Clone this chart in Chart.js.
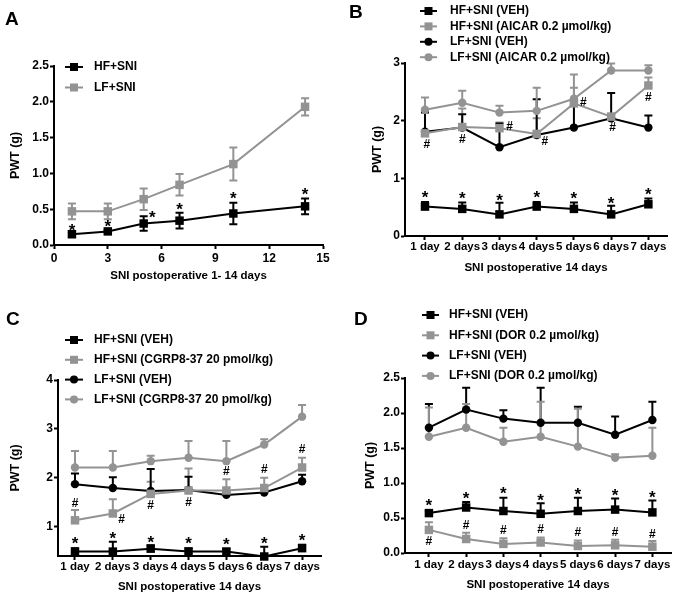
<!DOCTYPE html>
<html>
<head>
<meta charset="utf-8">
<script src="https://cdn.jsdelivr.net/npm/chart.js@4.4.1/dist/chart.umd.min.js"></script>
<style>
  body { margin: 0; background: #fff; }
  #wrap { position: relative; width: 677px; height: 597px; }
  canvas { position: absolute; }
</style>
</head>
<body>
<div id="wrap">
  <canvas id="chartA" width="338" height="298" style="left:0;top:0"></canvas>
  <canvas id="chartB" width="339" height="298" style="left:338px;top:0"></canvas>
  <canvas id="chartC" width="338" height="299" style="left:0;top:298px"></canvas>
  <canvas id="chartD" width="339" height="299" style="left:338px;top:298px"></canvas>
</div>
<script>
// panel A: days 1-14
const daysA = [1, 3, 5, 7, 10, 14];
const hfA = [0.15, 0.19, 0.30, 0.34, 0.44, 0.54];
const hfAErr = [0.02, 0.02, 0.10, 0.11, 0.15, 0.11];
const lfA = [0.47, 0.47, 0.64, 0.84, 1.13, 1.93];
const lfAErr = [0.11, 0.11, 0.15, 0.15, 0.23, 0.12];
const starsA = [[1, 0.26], [3, 0.31], [5.48, 0.44], [7, 0.55], [10, 0.70], [14, 0.76]];

// panels B-D: 7 days
const days = ["1 day", "2 days", "3 days", "4 days", "5 days", "6 days", "7 days"];

const hfVehB = [0.51, 0.47, 0.375, 0.51, 0.47, 0.375, 0.55];
const hfVehBErr = [0.08, 0.11, 0.20, 0.08, 0.11, 0.15, 0.10];
const hfAicarB = [1.78, 1.89, 1.87, 1.77, 2.30, 2.07, 2.61];
const hfAicarBErr = [0.37, 0.32, 0.10, 0.27, 0.50, 0.05, 0.14];
const lfVehB = [1.81, 1.88, 1.54, 1.75, 1.88, 2.04, 1.88];
const lfVehBErr = [0.33, 0.23, 0.41, 0.62, 0.40, 0.44, 0.21];
const lfAicarB = [2.19, 2.31, 2.14, 2.17, 2.38, 2.87, 2.87];
const lfAicarBErr = [0.21, 0.21, 0.12, 0.40, 0.19, 0.12, 0.09];
const starsB = [0.74, 0.72, 0.69, 0.74, 0.72, 0.63, 0.78];
const hashB = [[1.05, 1.60], [2.0, 1.69], [3.27, 1.92], [4.22, 1.66], [5.25, 2.33], [6.04, 1.89], [7.0, 2.41]];

const hfVehC = [0.49, 0.49, 0.55, 0.49, 0.49, 0.39, 0.56];
const hfVehCErr = [0.07, 0.20, 0.07, 0.07, 0.06, 0.20, 0.07];
const hfCgrpC = [1.13, 1.27, 1.67, 1.74, 1.74, 1.79, 2.21];
const hfCgrpCErr = [0.21, 0.29, 0.25, 0.45, 0.23, 0.21, 0.20];
const lfVehC = [1.87, 1.79, 1.73, 1.75, 1.65, 1.70, 1.93];
const lfVehCErr = [0.22, 0.22, 0.45, 0.27, 0.05, 0.05, 0.13];
const lfCgrpC = [2.21, 2.21, 2.34, 2.41, 2.34, 2.68, 3.25];
const lfCgrpCErr = [0.34, 0.34, 0.11, 0.34, 0.41, 0.11, 0.24];
const starsC = [0.74, 0.83, 0.76, 0.73, 0.71, 0.74, 0.80];
const hashC = [[1, 1.49], [2.23, 1.17], [3, 1.44], [4, 1.51], [5, 2.14], [6, 2.19], [7, 2.60]];

const hfVehD = [0.57, 0.65, 0.60, 0.56, 0.60, 0.62, 0.58];
const hfVehDErr = [0.03, 0.08, 0.19, 0.15, 0.19, 0.16, 0.17];
const hfDorD = [0.33, 0.20, 0.13, 0.15, 0.10, 0.11, 0.09];
const hfDorDErr = [0.11, 0.09, 0.08, 0.07, 0.08, 0.08, 0.08];
const lfVehD = [1.79, 2.05, 1.92, 1.86, 1.86, 1.69, 1.90];
const lfVehDErr = [0.34, 0.31, 0.12, 0.50, 0.23, 0.26, 0.26];
const lfDorD = [1.66, 1.79, 1.59, 1.66, 1.52, 1.36, 1.39];
const lfDorDErr = [0.42, 0.34, 0.20, 0.50, 0.54, 0.05, 0.40];
const starsD = [0.74, 0.84, 0.905, 0.81, 0.895, 0.87, 0.85];
const hashD = [0.17, 0.41, 0.34, 0.35, 0.30, 0.30, 0.28];

const FONT = "'Liberation Sans', Arial, sans-serif";
const BLACK = "#000";
const GRAY = "#939393";

Chart.defaults.font.family = FONT;
Chart.defaults.font.weight = "bold";
Chart.defaults.color = BLACK;

// error bars (upward only unless both is set)
const errorBars = {
    id: "errorBars",
    beforeDatasetsDraw(chart) {
        const ctx = chart.ctx;
        const ys = chart.scales.y;
        chart.data.datasets.forEach((ds, i) => {
            const meta = chart.getDatasetMeta(i);
            ctx.save();
            ctx.strokeStyle = ds.borderColor;
            ctx.lineWidth = 2;
            meta.data.forEach((pt, j) => {
                const v = ds.data[j].y, e = ds.err[j];
                const top = ys.getPixelForValue(v + e);
                const bot = ds.both ? ys.getPixelForValue(v - e) : pt.y;
                ctx.beginPath();
                ctx.moveTo(pt.x, bot);
                ctx.lineTo(pt.x, top);
                ctx.moveTo(pt.x - 4, top);
                ctx.lineTo(pt.x + 4, top);
                if (ds.both) {
                    ctx.moveTo(pt.x - 4, bot);
                    ctx.lineTo(pt.x + 4, bot);
                }
                ctx.stroke();
            });
            ctx.restore();
        });
    }
};

// significance marks, legend and panel letter
const panelDeco = {
    id: "panel",
    afterDatasetsDraw(chart, args, o) {
        const ctx = chart.ctx;
        const xs = chart.scales.x, ys = chart.scales.y;
        ctx.save();
        ctx.fillStyle = BLACK;
        ctx.textAlign = "center";
        ctx.textBaseline = "alphabetic";
        o.marks.forEach(m => {
            const star = m[2] === "*";
            const size = star ? 17 : 12;
            ctx.font = "bold " + size + "px " + FONT;
            ctx.fillText(m[2], xs.getPixelForValue(m[0]), ys.getPixelForValue(m[1]) + (star ? 0.55 : 0.36) * size);
        });

        const lg = o.legend;
        chart.data.datasets.forEach((ds, k) => {
            const y = lg.y + k * lg.dy;
            const mx = (lg.x1 + lg.x2) / 2;
            ctx.strokeStyle = ds.borderColor;
            ctx.fillStyle = ds.borderColor;
            ctx.lineWidth = 2;
            ctx.beginPath();
            ctx.moveTo(lg.x1, y);
            ctx.lineTo(lg.x2, y);
            ctx.stroke();
            if (ds.pointStyle === "rect") {
                ctx.fillRect(mx - 4, y - 4, 8, 8);
            } else {
                ctx.beginPath();
                ctx.arc(mx, y, 4, 0, Math.PI * 2);
                ctx.fill();
            }
            ctx.fillStyle = BLACK;
            ctx.font = "bold 12px " + FONT;
            ctx.textAlign = "left";
            ctx.textBaseline = "middle";
            ctx.fillText(ds.label, lg.text, y);
        });

        ctx.font = "bold 19px " + FONT;
        ctx.textAlign = "left";
        ctx.textBaseline = "alphabetic";
        ctx.fillText(o.letter[0], o.letter[1], o.letter[2]);
        ctx.restore();
    }
};

function series(label, xs, ys, err, color, style, both) {
    return {
        label: label,
        data: ys.map((v, i) => ({ x: xs[i], y: v })),
        err: err,
        both: both,
        borderColor: color,
        backgroundColor: color,
        pointBackgroundColor: color,
        pointBorderColor: color,
        pointBorderWidth: 0,
        pointStyle: style,
        pointRadius: style === "rect" ? 6 : 4.2,
        borderWidth: 2,
        tension: 0,
        clip: false
    };
}

function axis(extra) {
    const base = {
        type: "linear",
        border: { display: true, color: BLACK, width: 2 },
        grid: { display: true, drawOnChartArea: false, drawTicks: true, tickLength: 4, tickWidth: 2, tickColor: BLACK },
        ticks: { color: BLACK, font: { size: 12, weight: "bold" }, maxRotation: 0, autoSkip: false, padding: 1 },
        title: { display: true, color: BLACK, font: { size: 12.5, weight: "bold" } }
    };
    return Object.assign(base, extra, {
        ticks: Object.assign(base.ticks, extra.ticks || {}),
        title: Object.assign(base.title, extra.title || {})
    });
}

function dayAxis(min, right) {
    return axis({
        min: min, max: 7.5,
        afterFit: s => { s.height = right.h; },
        afterBuildTicks: s => { s.ticks = days.map((d, i) => ({ value: i + 1 })); },
        ticks: { callback: v => days[v - 1], font: { size: 11.5, weight: "bold" }, padding: right.pad },
        title: { text: "SNI postoperative 14 days", font: { size: 11.5, weight: "bold" }, padding: { top: 0, bottom: right.tb } }
    });
}

function makePanel(id, datasets, scales, padding, deco) {
    return new Chart(document.getElementById(id), {
        type: "line",
        data: { datasets: datasets },
        options: {
            responsive: false,
            animation: false,
            devicePixelRatio: 1,
            layout: { padding: padding },
            plugins: { legend: { display: false }, tooltip: { enabled: false }, panel: deco },
            scales: scales
        },
        plugins: [errorBars, panelDeco]
    });
}

const idx = days.map((d, i) => i + 1);

// A
makePanel("chartA", [
    series("HF+SNI", daysA, hfA, hfAErr, BLACK, "rect", true),
    series("LF+SNI", daysA, lfA, lfAErr, GRAY, "rect", true)
], {
    x: axis({
        min: 0, max: 15,
        afterFit: s => { s.height = 53; },
        ticks: { stepSize: 3, padding: 2 },
        title: { text: "SNI postoperative 1- 14 days", font: { size: 11.5, weight: "bold" }, padding: { top: 0, bottom: 15 } }
    }),
    y: axis({
        min: 0, max: 2.5,
        afterFit: s => { s.width = 54; },
        ticks: { stepSize: 0.5, callback: v => v.toFixed(1) },
        title: { text: "PWT (g)", padding: { top: 8, bottom: 0 } }
    })
}, { top: 66, right: 15, left: 0, bottom: 0 }, {
    letter: ["A", 5, 25],
    legend: { x1: 65, x2: 83, text: 94, y: 67, dy: 20.5 },
    marks: starsA.map(s => [s[0], s[1], "*"])
});

// B
makePanel("chartB", [
    series("HF+SNI (VEH)", idx, hfVehB, hfVehBErr, BLACK, "rect"),
    series("HF+SNI (AICAR 0.2 \u00b5mol/kg)", idx, hfAicarB, hfAicarBErr, GRAY, "rect"),
    series("LF+SNI (VEH)", idx, lfVehB, lfVehBErr, BLACK, "circle"),
    series("LF+SNI (AICAR 0.2 \u00b5mol/kg)", idx, lfAicarB, lfAicarBErr, GRAY, "circle")
], {
    x: dayAxis(0.463, { h: 62, pad: 0, tb: 23 }),
    y: axis({
        min: 0, max: 3,
        afterFit: s => { s.width = 67; },
        ticks: { stepSize: 1 },
        title: { text: "PWT (g)", padding: { top: 32, bottom: 0 } }
    })
}, { top: 63, right: 10, left: 0, bottom: 0 }, {
    letter: ["B", 11, 18],
    legend: { x1: 82, x2: 99, text: 112, y: 11, dy: 15.4 },
    marks: starsB.map((v, i) => [i + 1, v, "*"]).concat(hashB.map(h => [h[0], h[1], "#"]))
});

// C
makePanel("chartC", [
    series("HF+SNI (VEH)", idx, hfVehC, hfVehCErr, BLACK, "rect"),
    series("HF+SNI (CGRP8-37 20 pmol/kg)", idx, hfCgrpC, hfCgrpCErr, GRAY, "rect"),
    series("LF+SNI (VEH)", idx, lfVehC, lfVehCErr, BLACK, "circle"),
    series("LF+SNI (CGRP8-37 20 pmol/kg)", idx, lfCgrpC, lfCgrpCErr, GRAY, "circle")
], {
    x: dayAxis(0.551, { h: 41, pad: 0, tb: 3 }),
    y: axis({
        min: 0.4, max: 4,
        afterFit: s => { s.width = 58; },
        afterBuildTicks: s => { s.ticks = [1, 2, 3, 4].map(v => ({ value: v })); },
        title: { text: "PWT (g)", padding: { top: 8, bottom: 0 } }
    })
}, { top: 82, right: 17, left: 0, bottom: 0 }, {
    letter: ["C", 6, 27],
    legend: { x1: 65, x2: 83, text: 94, y: 42, dy: 19.8 },
    marks: starsC.map((v, i) => [i + 1, v, "*"]).concat(hashC.map(h => [h[0], h[1], "#"]))
});

// D
makePanel("chartD", [
    series("HF+SNI (VEH)", idx, hfVehD, hfVehDErr, BLACK, "rect"),
    series("HF+SNI (DOR 0.2 \u00b5mol/kg)", idx, hfDorD, hfDorDErr, GRAY, "rect"),
    series("LF+SNI (VEH)", idx, lfVehD, lfVehDErr, BLACK, "circle"),
    series("LF+SNI (DOR 0.2 \u00b5mol/kg)", idx, lfDorD, lfDorDErr, GRAY, "circle")
], {
    x: dayAxis(0.358, { h: 44, pad: 1, tb: 5 }),
    y: axis({
        min: 0, max: 2.5,
        afterFit: s => { s.width = 67; },
        ticks: { stepSize: 0.5, callback: v => v.toFixed(1) },
        title: { text: "PWT (g)", padding: { top: 25, bottom: 0 } }
    })
}, { top: 80, right: 5, left: 0, bottom: 0 }, {
    letter: ["D", 16, 27],
    legend: { x1: 84, x2: 101, text: 111, y: 17, dy: 20.3 },
    marks: starsD.map((v, i) => [i + 1, v, "*"]).concat(hashD.map((v, i) => [i + 1, v, "#"]))
});
</script>
</body>
</html>
